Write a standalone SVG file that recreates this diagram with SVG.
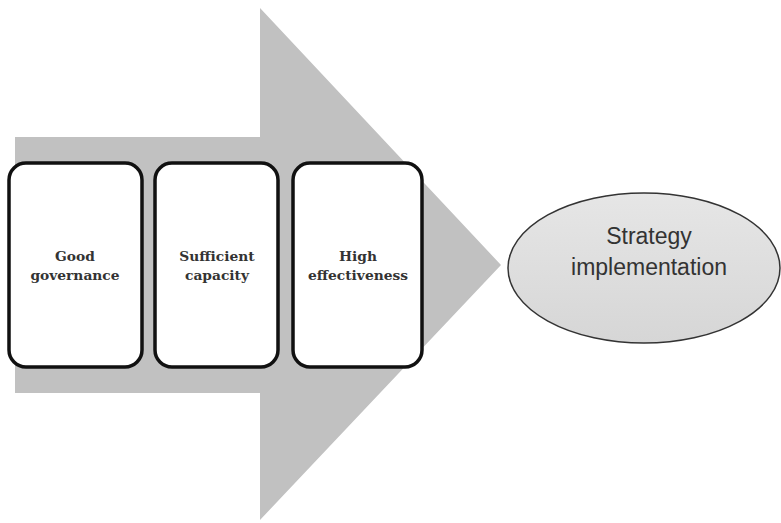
<svg xmlns="http://www.w3.org/2000/svg" width="781" height="523" viewBox="0 0 781 523">
<style>
.box{fill:#fff;stroke:#111;stroke-width:3.5}
.lbl{font-family:"DejaVu Serif","Liberation Serif",serif;font-weight:bold;font-size:13.8px;fill:#333;text-anchor:middle}
.elbl{font-family:"Liberation Sans",Arial,sans-serif;font-size:23px;fill:#333;text-anchor:middle}
</style>
<defs>
<linearGradient id="eg" x1="0" y1="0" x2="0" y2="1">
<stop offset="0" stop-color="#e6e6e6"/>
<stop offset="1" stop-color="#d6d6d6"/>
</linearGradient>
</defs>
<rect width="781" height="523" fill="#fff"/>
<g id="connectors">
<path d="M15 137 H260 V8 L501 265 L260 520 V393 H15 Z" fill="#c1c1c1"/>
</g>
<g id="node1">
<rect class="box" x="9" y="163" width="133" height="204" rx="17"/>
<text class="lbl" x="75" y="261">Good</text>
<text class="lbl" x="75" y="280">governance</text>
</g>
<g id="node2">
<rect class="box" x="155" y="163" width="123" height="204" rx="17"/>
<text class="lbl" x="217" y="261">Sufficient</text>
<text class="lbl" x="217" y="280">capacity</text>
</g>
<g id="node3">
<rect class="box" x="293" y="163" width="129" height="204" rx="17"/>
<text class="lbl" x="358" y="261">High</text>
<text class="lbl" x="358" y="280">effectiveness</text>
</g>
<g id="node4">
<ellipse cx="644" cy="268" rx="136" ry="75" fill="url(#eg)" stroke="#333" stroke-width="1.5"/>
<text class="elbl" x="649" y="244">Strategy</text>
<text class="elbl" x="649" y="275">implementation</text>
</g>
</svg>
